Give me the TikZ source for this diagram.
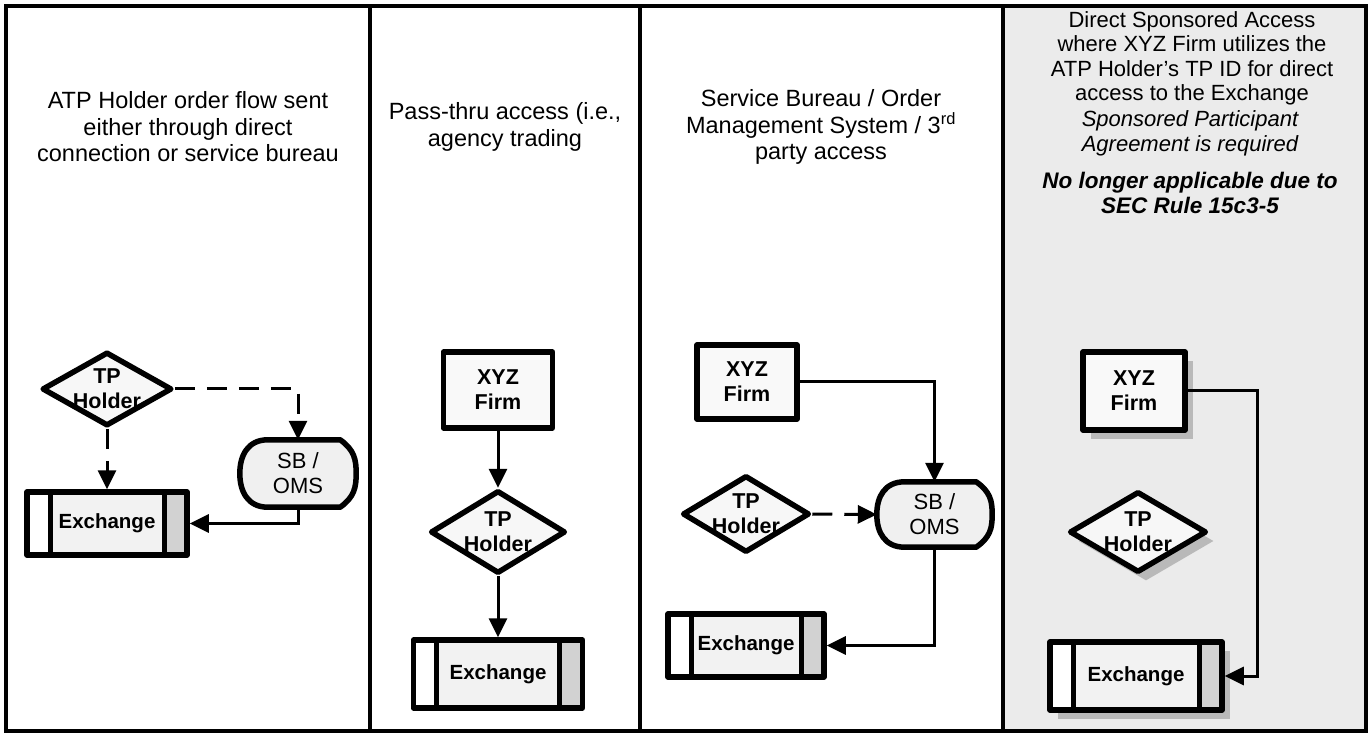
\documentclass[tikz,border=0pt]{standalone}
\usepackage{fontspec}
\setmainfont{Liberation Sans}
\usetikzlibrary{shapes.geometric,arrows.meta,shadows,calc}
\pgfdeclarelayer{background}
\pgfsetlayers{background,main}
\tikzset{
  panelline/.style={draw=black, line width=3.2pt},
  nodeline/.style={draw=black, line width=5.5pt, line join=round},
  titletext/.style={align=center, font=\fontsize{23.5}{26.5}\selectfont},
  nodetext/.style={font=\bfseries\fontsize{20.5}{24}\selectfont, align=center},
  diatext/.style={font=\bfseries\fontsize{21.5}{25}\selectfont, align=center},
  firm/.style={nodeline, fill=gray!5, diatext, inner sep=0pt},
  dia/.style={shape=diamond, nodeline, fill=gray!6, inner sep=0pt},
  sbtext/.style={inner sep=0pt, align=center, font=\fontsize{22}{25}\selectfont},
  exch/.style={nodeline, fill=gray!10, nodetext, inner sep=0pt,
    path picture={
      \fill[white] (path picture bounding box.north west) rectangle ([xshift=23pt]path picture bounding box.south west);
      \fill[gray!35] ([xshift=-23pt]path picture bounding box.north east) rectangle (path picture bounding box.south east);
      \draw[line width=5pt] ([xshift=23pt]path picture bounding box.north west) -- ([xshift=23pt]path picture bounding box.south west);
      \draw[line width=5pt] ([xshift=-23pt]path picture bounding box.north east) -- ([xshift=-23pt]path picture bounding box.south east);
    }},
  conn/.style={draw=black, line width=3pt, -{Triangle[length=19pt,width=18pt]}},
  dashconn/.style={conn, dash pattern=on 20pt off 12pt},
  shad/.style={drop shadow={shadow xshift=8pt, shadow yshift=-9pt, fill=gray!55, opacity=1}},
}
\newcommand\sbdraw[1]{%
  \begin{pgfonlayer}{background}
  \draw[nodeline, fill=gray!12]
   ($(#1.north west)+(28,0)$) -- ($(#1.north east)+(-16,0)$)
   .. controls ($(#1.north east)+(-2,10)$) and ($(#1.east)+(0,-14)$) .. (#1.east)
   .. controls ($(#1.east)+(0,14)$) and ($(#1.south east)+(-2,-10)$) .. ($(#1.south east)+(-16,0)$)
   -- ($(#1.south west)+(28,0)$)
   .. controls ($(#1.south west)+(8,0)$) and ($(#1.west)+(0,18)$) .. (#1.west)
   .. controls ($(#1.west)+(0,-18)$) and ($(#1.north west)+(8,0)$) .. cycle;
  \end{pgfonlayer}}
\begin{document}
\begin{tikzpicture}[x=1pt, y=-1pt]
\useasboundingbox (0,0) rectangle (1369,735);
\begin{pgfonlayer}{background}
\fill[white] (0,0) rectangle (1369,735);
\fill[gray!16] (1003,6) rectangle (1366,731);
\end{pgfonlayer}
% panels
\draw[panelline] (6,6) rectangle (1366,731);
\draw[panelline] (370,6) -- (370,731);
\draw[panelline] (640,6) -- (640,731);
\draw[panelline] (1003,6) -- (1003,731);

% titles
\node[titletext] (t1) at (188,127) {ATP Holder order flow sent\\either through direct\\connection or service bureau};
\node[titletext] (t2) at (505,127) {Pass-thru access (i.e.,\\agency trading};
\node[titletext] (t3) at (821,127) {Service Bureau / Order\\Management System / 3\textsuperscript{rd}\\party access};
\node[align=center, font=\fontsize{22}{24.5}\selectfont] (t4a) at (1192,58.5) {Direct Sponsored Access\\where XYZ Firm utilizes the\\ATP Holder's TP ID for direct\\access to the Exchange};
\node[align=center, font=\itshape\fontsize{22}{25}\selectfont] (t4b) at (1190,133.5) {Sponsored Participant\\Agreement is required};
\node[align=center, font=\bfseries\itshape\fontsize{22.5}{25}\selectfont] (t4c) at (1190,192.5) {No longer applicable due to\\SEC Rule 15c3-5};

% panel 1
\node[dia, minimum width=130pt, minimum height=74pt, label={[diatext]center:TP\\Holder}] (d1) at (107,389) {};
\node[exch, minimum width=160pt, minimum height=63pt] (e1) at (107,523.5) {Exchange};
\node[sbtext, minimum width=116pt, minimum height=67pt] (s1) at (298,473.5) {SB /\\OMS};
\sbdraw{s1}
\draw[dashconn] (d1.south) -- (e1.north);
\draw[dashconn] (d1.east) -| (s1.north);
\draw[conn] (s1.south) |- (e1.east);

% panel 2
\node[firm, minimum width=109pt, minimum height=76pt] (f2) at (498,390) {XYZ\\Firm};
\node[dia, minimum width=135pt, minimum height=83pt, label={[diatext]center:TP\\Holder}] (d2) at (498,532) {};
\node[exch, minimum width=169pt, minimum height=68pt] (e2) at (498,674) {Exchange};
\draw[conn] (f2.south) -- (d2.north);
\draw[conn] (d2.south) -- (e2.north);

% panel 3
\node[firm, minimum width=100pt, minimum height=74pt] (f3) at (747,382) {XYZ\\Firm};
\node[dia, minimum width=127pt, minimum height=77pt, label={[diatext]center:TP\\Holder}] (d3) at (746,514) {};
\node[sbtext, minimum width=115pt, minimum height=65pt] (s3) at (934.5,514.5) {SB /\\OMS};
\sbdraw{s3}
\node[exch, minimum width=156pt, minimum height=63pt] (e3) at (746,645.5) {Exchange};
\draw[conn] (f3.east) -| (s3.north);
\draw[dashconn] (d3.east) -- (s3.west);
\draw[conn] (s3.south) |- (e3.east);

% panel 4
\node[firm, shad, minimum width=102pt, minimum height=78pt] (f4) at (1134,391) {XYZ\\Firm};
\node[dia, shad, minimum width=137pt, minimum height=81pt, label={[diatext]center:TP\\Holder}] (d4) at (1138,532) {};
\node[exch, shad, minimum width=172pt, minimum height=68pt] (e4) at (1136,676) {Exchange};
\coordinate (c4) at (1257,391);
\draw[conn] (f4.east) -- (c4) |- (e4.east);
\end{tikzpicture}
\end{document}
